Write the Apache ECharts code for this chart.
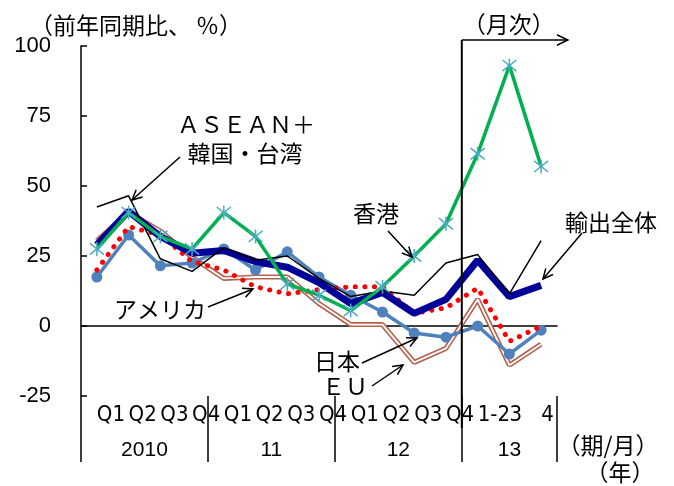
<!DOCTYPE html>
<html><head><meta charset="utf-8">
<script src="https://cdn.jsdelivr.net/npm/echarts@6/dist/echarts.min.js"></script>
<style>html,body{margin:0;padding:0;background:#fff}#c{width:674px;height:486px}</style>
</head><body><div id="c"></div>
<script>
// ---- data ----
const periodLabels = ['Q1','Q2','Q3','Q4','Q1','Q2','Q3','Q4','Q1','Q2','Q3','Q4','1-2','3','4'];
const yearLabels = ['2010','11','12','13'];
const yearStarts = [0, 4, 8, 12];
const yMin = -25, yMax = 100, yStep = 25;

const totalExports = [29, 41, 32, 26, 27, 23, 21, 15.5, 8, 12, 4.5, 9.5, 23.5, 10.5, 14.5];
const aseanKoreaTaiwan = [27.5, 40.5, 32, 27.5, 40.5, 32, 15, 11, 5.5, 14, 25, 36.5, 61.5, 93, 57];
const hongKong = [42.5, 46.5, 24, 19.5, 28, 23.5, 25, 17, 10.5, 12.5, 11, 22.5, 25.5, 11.5, 30.5];
const usa = [20, 35.5, 32.5, 23, 20, 14, 11.5, 13, 14, 14, 4.5, 6.5, 13.5, -5.5, 0];
const japan = [17.5, 32.5, 21.5, 22.5, 27.5, 20, 26.5, 17.5, 11, 5, -2.5, -4, 0, -10, -1.5];
const eu = [30.5, 40.5, 34, 24.5, 17, 17.5, 17.5, 8, 0.5, 0.5, -13, -8, 9.5, -14, -6.5];

// ---- chart ----
const CJK = "'Noto Sans CJK JP', sans-serif";
const NUM = "'Liberation Sans', Arial, sans-serif";
const NARROW = "'Liberation Sans Narrow', 'DejaVu Sans Condensed', sans-serif";

const chart = echarts.init(document.getElementById('c'), null, {renderer: 'canvas'});

const n = periodLabels.length;
const yearAt = {};
yearStarts.forEach((s, i) => {
  const e = i + 1 < yearStarts.length ? yearStarts[i + 1] : n;
  const len = e - s;
  if (len % 2 === 0) yearAt[s + len / 2 - 1] = {t: yearLabels[i], shift: true};
  else yearAt[s + (len - 1) / 2] = {t: yearLabels[i], shift: false};
});

const star = 'path://M2,2L18,18M18,2L2,18M10,0L10,20';

chart.setOption({
  animation: false,
  backgroundColor: '#fff',
  grid: {left: 81, right: 117, top: 46, bottom: 90, containLabel: false},
  xAxis: [
    {type: 'category', data: periodLabels, boundaryGap: true,
     axisLine: {onZero: true, lineStyle: {color: '#000', width: 1.5}},
     axisTick: {show: false}, axisLabel: {show: false}, splitLine: {show: false}},
    {type: 'category', data: periodLabels, position: 'bottom', boundaryGap: true,
     axisLine: {show: false, onZero: false}, axisTick: {show: false},
     axisLabel: {interval: 0, align: 'left', margin: 8, fontFamily: NARROW, fontSize: 22, color: '#000'}},
    {type: 'category', data: periodLabels, position: 'bottom', boundaryGap: true,
     axisLine: {show: false, onZero: false},
     axisTick: {show: true, inside: false, length: 66, alignWithLabel: false,
       interval: (idx) => yearStarts.indexOf(idx) >= 0,
       lineStyle: {color: '#000', width: 1.5}},
     axisLabel: {interval: 0, margin: 44, color: '#000', fontFamily: NUM, fontSize: 21,
       formatter: (v, idx) => yearAt[idx] ? (yearAt[idx].shift ? '{s|' + yearAt[idx].t + '}' : '{c|' + yearAt[idx].t + '}') : '',
       rich: {s: {padding: [0, 0, 0, 31.7], fontFamily: NUM, fontSize: 21, color: '#000'},
              c: {fontFamily: NUM, fontSize: 21, color: '#000'}}}}
  ],
  yAxis: {type: 'value', min: yMin, max: yMax, interval: yStep,
    axisLine: {show: true, lineStyle: {color: '#000', width: 1.5}},
    axisTick: {show: true, inside: true, length: 6, lineStyle: {color: '#000', width: 1.5}},
    splitLine: {show: false},
    axisLabel: {margin: 30, color: '#000', fontFamily: NUM, fontSize: 22}},
  series: [
    {name: 'EU', type: 'line', data: eu, symbol: 'none', z: 2,
     lineStyle: {color: '#B5614E', width: 5}, emphasis: {disabled: true}},
    {name: 'EU inner', type: 'line', data: eu, symbol: 'none', z: 2,
     lineStyle: {color: '#fff', width: 1.8}, emphasis: {disabled: true}},
    {name: '日本', type: 'line', data: japan, symbol: 'circle', symbolSize: 11, z: 3,
     itemStyle: {color: '#4F81BD'}, lineStyle: {color: '#4F81BD', width: 3.5}, emphasis: {disabled: true}},
    {name: 'アメリカ', type: 'line', data: usa, symbol: 'none', z: 4,
     lineStyle: {color: '#FF0000', width: 5, type: [0.1, 9.5], cap: 'round'}, emphasis: {disabled: true}},
    {name: '輸出全体', type: 'line', data: totalExports, symbol: 'none', z: 5,
     lineStyle: {color: '#000099', width: 7}, emphasis: {disabled: true}},
    {name: '香港', type: 'line', data: hongKong, symbol: 'none', z: 6,
     lineStyle: {color: '#000', width: 1.5}, emphasis: {disabled: true}},
    {name: 'ASEAN+韓国・台湾', type: 'line', data: aseanKoreaTaiwan, symbol: star, symbolSize: 14, z: 7,
     itemStyle: {color: '#4BACC6', borderColor: '#4BACC6', borderWidth: 1.5},
     lineStyle: {color: '#00B050', width: 3.5}, emphasis: {disabled: true}}
  ]
});

// ---- annotations ----
function arrow(x1, y1, x2, y2, head) {
  head = head || 11;
  const a = Math.atan2(y2 - y1, x2 - x1);
  const s = 0.45;
  const p1 = [x2 - head * Math.cos(a - s), y2 - head * Math.sin(a - s)];
  const p2 = [x2 - head * Math.cos(a + s), y2 - head * Math.sin(a + s)];
  return [
    {type: 'line', shape: {x1, y1, x2, y2}, style: {stroke: '#000', lineWidth: 1.5}, z: 100},
    {type: 'polyline', shape: {points: [p1, [x2, y2], p2]}, style: {stroke: '#000', lineWidth: 1.5, fill: null}, z: 100}
  ];
}
function txt(t, x, y, align, size) {
  return {type: 'text', x, y, z: 100, style: {text: t, fill: '#000', font: (size || 23) + 'px ' + CJK,
    textAlign: align || 'center', textVerticalAlign: 'middle'}};
}

const c12 = chart.convertToPixel({xAxisIndex: 0}, 12);
const c11 = chart.convertToPixel({xAxisIndex: 0}, 11);
const xb = (c11 + c12) / 2;
const yTop = 40;

let g = [];
g.push(txt('（前年同期比、 ％）', 136, 25, 'center'));
g.push(txt('（月次）', xb + 47, 24));
g.push({type: 'line', shape: {x1: xb, y1: yTop, x2: xb, y2: 428}, style: {stroke: '#000', lineWidth: 2}, z: 100});
g = g.concat(arrow(xb, yTop, xb + 106, yTop, 12));
g.push(txt('ＡＳＥＡＮ＋', 246, 124));
g.push(txt('韓国・台湾', 245, 153));
g = g.concat(arrow(180, 157, 132, 200));
g.push(txt('香港', 376, 213));
g = g.concat(arrow(388, 231, 412, 257));
g.push(txt('輸出全体', 611, 222));
g = g.concat(arrow(582, 233, 543, 279));
g.push(txt('アメリカ', 160, 309));
g = g.concat(arrow(208, 307, 253, 289));
g.push(txt('日本', 337, 361));
g = g.concat(arrow(362, 363, 417, 338));
g.push(txt('ＥＵ', 345, 386));
g = g.concat(arrow(372, 386, 403, 365));
g.push(txt('（期/月）', 608, 445));
g.push(txt('（年）', 620, 472));
chart.setOption({graphic: g});
</script>
</body></html>
